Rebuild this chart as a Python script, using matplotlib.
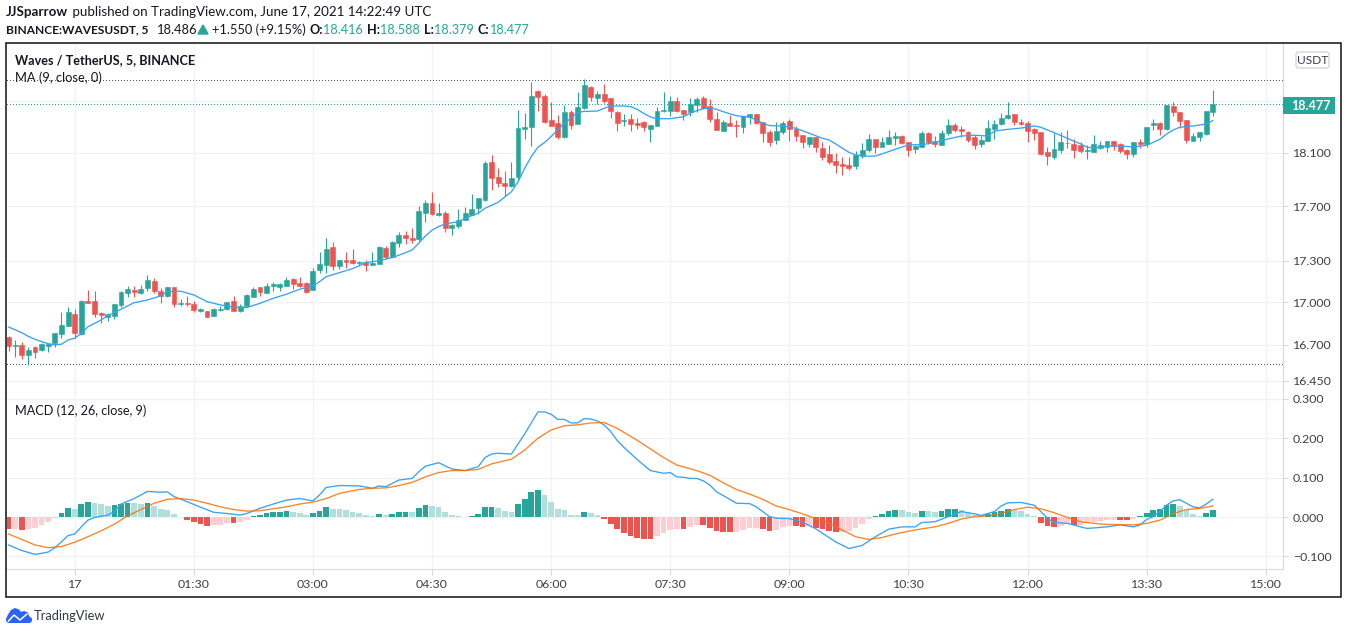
import matplotlib
matplotlib.use("Agg")
import matplotlib.pyplot as plt
from matplotlib.patches import Polygon, Rectangle, FancyBboxPatch
from matplotlib.ticker import FixedLocator, FixedFormatter, NullLocator

W, H = 1348, 634
plt.rcParams["font.family"] = ["Lato", "DejaVu Sans"]

# candles, one value per 5 minute bar
opens = [
    16.756, 16.693, 16.700, 16.630, 16.686, 16.667, 16.693, 16.714, 16.779, 16.835,
    16.919, 16.777, 17.011, 17.011, 16.926, 16.898, 16.906, 16.983, 17.071, 17.088,
    17.071, 17.104, 17.154, 17.083, 17.047, 17.109, 16.992, 16.997, 16.990, 16.940,
    16.940, 16.905, 16.949, 16.954, 17.011, 16.940, 16.976, 17.040, 17.111, 17.068,
    17.118, 17.111, 17.118, 17.169, 17.140, 17.140, 17.090, 17.234, 17.270, 17.401,
    17.263, 17.306, 17.306, 17.286, 17.292, 17.272, 17.277, 17.394, 17.328, 17.430,
    17.488, 17.467, 17.459, 17.650, 17.724, 17.635, 17.650, 17.540, 17.555, 17.599,
    17.635, 17.687, 17.747, 18.032, 17.918, 17.873, 17.851, 17.918, 18.283, 18.298,
    18.577, 18.538, 18.352, 18.329, 18.222, 18.414, 18.321, 18.445, 18.608, 18.522,
    18.554, 18.522, 18.414, 18.347, 18.360, 18.329, 18.337, 18.283, 18.306, 18.421,
    18.421, 18.499, 18.429, 18.414, 18.468, 18.522, 18.460, 18.360, 18.267, 18.329,
    18.314, 18.298, 18.375, 18.398, 18.337, 18.260, 18.199, 18.260, 18.344, 18.283,
    18.237, 18.169, 18.222, 18.138, 18.093, 18.039, 18.017, 18.009, 18.002, 18.077,
    18.123, 18.207, 18.146, 18.169, 18.214, 18.229, 18.184, 18.130, 18.146, 18.252,
    18.191, 18.161, 18.252, 18.314, 18.283, 18.260, 18.222, 18.169, 18.191, 18.283,
    18.321, 18.367, 18.398, 18.337, 18.329, 18.283, 18.260, 18.108, 18.070, 18.123,
    18.179, 18.169, 18.161, 18.118, 18.108, 18.138, 18.146, 18.191, 18.169, 18.123,
    18.093, 18.184, 18.169, 18.314, 18.329, 18.283, 18.460, 18.414, 18.352, 18.191,
    18.222, 18.244, 18.416,
]
highs = [
    16.763, 16.735, 16.721, 16.684, 16.693, 16.716, 16.712, 16.784, 16.933, 16.968,
    16.952, 17.018, 17.090, 17.083, 16.935, 16.924, 16.990, 17.083, 17.118, 17.118,
    17.125, 17.198, 17.173, 17.104, 17.109, 17.109, 17.025, 17.047, 17.011, 16.961,
    16.940, 16.961, 16.976, 17.004, 17.047, 16.990, 17.061, 17.109, 17.111, 17.140,
    17.147, 17.140, 17.183, 17.176, 17.183, 17.147, 17.248, 17.365, 17.467, 17.437,
    17.306, 17.365, 17.386, 17.299, 17.306, 17.365, 17.408, 17.408, 17.445, 17.510,
    17.518, 17.540, 17.702, 17.747, 17.806, 17.724, 17.665, 17.569, 17.680, 17.695,
    17.791, 17.762, 18.039, 18.085, 17.986, 17.963, 18.032, 18.429, 18.406, 18.647,
    18.585, 18.554, 18.492, 18.390, 18.468, 18.429, 18.569, 18.671, 18.616, 18.577,
    18.632, 18.522, 18.421, 18.398, 18.398, 18.367, 18.344, 18.314, 18.452, 18.569,
    18.538, 18.530, 18.429, 18.522, 18.530, 18.538, 18.515, 18.414, 18.352, 18.390,
    18.352, 18.383, 18.398, 18.398, 18.337, 18.275, 18.337, 18.344, 18.360, 18.306,
    18.237, 18.222, 18.222, 18.184, 18.161, 18.100, 18.070, 18.070, 18.115, 18.176,
    18.244, 18.207, 18.222, 18.275, 18.260, 18.237, 18.184, 18.161, 18.267, 18.260,
    18.229, 18.275, 18.360, 18.329, 18.306, 18.267, 18.237, 18.229, 18.352, 18.352,
    18.406, 18.492, 18.398, 18.360, 18.344, 18.290, 18.260, 18.146, 18.252, 18.260,
    18.275, 18.207, 18.184, 18.161, 18.237, 18.191, 18.191, 18.191, 18.176, 18.130,
    18.184, 18.207, 18.298, 18.360, 18.337, 18.468, 18.492, 18.414, 18.352, 18.252,
    18.260, 18.421, 18.588,
]
lows = [
    16.660, 16.618, 16.604, 16.563, 16.611, 16.656, 16.653, 16.688, 16.751, 16.835,
    16.749, 16.770, 16.999, 16.899, 16.857, 16.871, 16.883, 16.971, 17.042, 17.042,
    17.061, 17.085, 17.068, 16.997, 17.042, 16.971, 16.978, 16.978, 16.933, 16.933,
    16.898, 16.905, 16.940, 16.947, 16.940, 16.933, 16.976, 17.040, 17.047, 17.066,
    17.083, 17.083, 17.118, 17.097, 17.113, 17.068, 17.090, 17.214, 17.214, 17.234,
    17.241, 17.248, 17.277, 17.263, 17.227, 17.272, 17.277, 17.313, 17.328, 17.403,
    17.423, 17.430, 17.445, 17.584, 17.635, 17.628, 17.510, 17.488, 17.540, 17.599,
    17.633, 17.643, 17.739, 17.821, 17.843, 17.776, 17.843, 17.896, 18.207, 18.153,
    18.421, 18.329, 18.306, 18.207, 18.214, 18.283, 18.321, 18.437, 18.499, 18.476,
    18.484, 18.367, 18.267, 18.306, 18.267, 18.283, 18.267, 18.184, 18.306, 18.416,
    18.383, 18.414, 18.352, 18.383, 18.414, 18.437, 18.337, 18.275, 18.267, 18.306,
    18.222, 18.252, 18.321, 18.321, 18.184, 18.153, 18.169, 18.244, 18.191, 18.191,
    18.138, 18.146, 18.108, 18.047, 18.017, 17.948, 17.933, 17.971, 17.979, 18.062,
    18.108, 18.100, 18.146, 18.169, 18.161, 18.169, 18.077, 18.100, 18.146, 18.169,
    18.146, 18.161, 18.237, 18.260, 18.222, 18.184, 18.130, 18.146, 18.191, 18.207,
    18.314, 18.360, 18.314, 18.314, 18.184, 18.199, 18.085, 18.009, 18.055, 18.100,
    18.138, 18.062, 18.100, 18.055, 18.108, 18.130, 18.108, 18.123, 18.100, 18.055,
    18.070, 18.138, 18.146, 18.275, 18.237, 18.275, 18.383, 18.290, 18.176, 18.191,
    18.191, 18.237, 18.379,
]
closes = [
    16.693, 16.700, 16.632, 16.665, 16.653, 16.707, 16.705, 16.784, 16.840, 16.933,
    16.786, 17.011, 16.999, 16.921, 16.914, 16.917, 16.990, 17.075, 17.097, 17.078,
    17.097, 17.161, 17.083, 17.049, 17.109, 16.990, 16.997, 16.990, 16.947, 16.952,
    16.898, 16.954, 16.954, 17.004, 16.940, 16.976, 17.054, 17.097, 17.075, 17.118,
    17.133, 17.133, 17.161, 17.133, 17.118, 17.075, 17.227, 17.277, 17.386, 17.263,
    17.306, 17.292, 17.284, 17.292, 17.270, 17.284, 17.401, 17.328, 17.437, 17.488,
    17.467, 17.452, 17.665, 17.724, 17.643, 17.650, 17.540, 17.562, 17.599, 17.650,
    17.680, 17.762, 18.024, 17.911, 17.873, 17.851, 17.911, 18.290, 18.298, 18.538,
    18.530, 18.337, 18.306, 18.222, 18.414, 18.314, 18.452, 18.624, 18.530, 18.554,
    18.499, 18.421, 18.329, 18.352, 18.321, 18.314, 18.298, 18.314, 18.421, 18.429,
    18.499, 18.421, 18.398, 18.476, 18.515, 18.445, 18.360, 18.275, 18.337, 18.306,
    18.309, 18.383, 18.398, 18.329, 18.252, 18.184, 18.267, 18.329, 18.283, 18.229,
    18.184, 18.222, 18.146, 18.070, 18.032, 18.009, 18.002, 17.986, 18.085, 18.123,
    18.207, 18.146, 18.184, 18.222, 18.229, 18.176, 18.123, 18.153, 18.252, 18.184,
    18.169, 18.252, 18.314, 18.275, 18.267, 18.199, 18.161, 18.199, 18.290, 18.321,
    18.367, 18.390, 18.337, 18.321, 18.267, 18.252, 18.093, 18.077, 18.130, 18.184,
    18.174, 18.123, 18.115, 18.123, 18.169, 18.161, 18.191, 18.153, 18.115, 18.093,
    18.184, 18.169, 18.298, 18.329, 18.283, 18.468, 18.414, 18.344, 18.199, 18.229,
    18.260, 18.421, 18.477,
]

# MA (9) read at these bars
ma_bars = [0, 1, 2, 3, 4, 5, 6, 7, 8, 9, 10, 11, 12, 14, 15, 17, 19, 21, 23, 24, 26, 28, 30, 32, 34, 36, 38,
           40, 42, 44, 46, 47, 48, 50, 52, 54, 56, 58, 60, 61, 62, 63, 64, 65, 66, 68, 70, 71, 72, 74, 76, 77,
           78, 79, 80, 81, 82, 83, 84, 85, 86, 87, 89, 90, 91, 93, 94, 95, 96, 97, 98, 100, 102, 103, 104,
           105, 106, 107, 108, 110, 112, 113, 114, 115, 117, 119, 121, 123, 124, 125, 126, 127, 128, 130,
           131, 132, 134, 136, 138, 140, 142, 144, 146, 148, 149, 151, 153, 155, 156, 158, 160, 162, 163,
           164, 166, 168, 170, 172, 174, 175, 176, 177, 179, 181, 182]
ma_vals = [16.826, 16.807, 16.786, 16.760, 16.740, 16.723, 16.709, 16.702, 16.705, 16.735, 16.747, 16.782,
           16.828, 16.876, 16.906, 16.952, 16.999, 17.018, 17.047, 17.078, 17.081, 17.054, 17.006, 16.983,
           16.966, 16.964, 16.994, 17.030, 17.059, 17.095, 17.118, 17.149, 17.185, 17.214, 17.243, 17.286,
           17.301, 17.323, 17.359, 17.379, 17.428, 17.481, 17.523, 17.550, 17.569, 17.587, 17.631, 17.649,
           17.685, 17.730, 17.808, 17.883, 17.984, 18.072, 18.144, 18.179, 18.225, 18.275, 18.327, 18.366,
           18.410, 18.418, 18.421, 18.442, 18.460, 18.460, 18.455, 18.434, 18.403, 18.375, 18.362, 18.362,
           18.377, 18.403, 18.424, 18.439, 18.445, 18.434, 18.416, 18.384, 18.375, 18.352, 18.327, 18.309,
           18.306, 18.288, 18.250, 18.212, 18.199, 18.169, 18.136, 18.105, 18.085, 18.075, 18.077, 18.093,
           18.128, 18.161, 18.163, 18.179, 18.207, 18.229, 18.235, 18.229, 18.267, 18.280, 18.290, 18.306,
           18.296, 18.255, 18.212, 18.169, 18.144, 18.136, 18.153, 18.153, 18.146, 18.158, 18.204, 18.244,
           18.275, 18.296, 18.306, 18.321, 18.347]

# MACD line
macd_bars = [0, 2, 4, 6, 7, 8, 9, 10, 11, 12, 13, 15, 16, 17, 19, 21, 23, 24, 25, 27, 29, 31, 33, 35, 36, 38,
             40, 42, 44, 46, 47, 48, 50, 53, 55, 56, 57, 59, 61, 62, 63, 65, 67, 69, 71, 72, 73, 74, 76, 78,
             80, 81, 82, 83, 84, 85, 86, 87, 88, 89, 90, 91, 92, 93, 95, 97, 99, 100, 101, 102, 103, 104, 105,
             106, 107, 109, 110, 112, 113, 115, 116, 118, 120, 122, 123, 125, 127, 129, 131, 133, 135, 137,
             138, 140, 142, 144, 146, 147, 149, 150, 151, 153, 155, 156, 157, 158, 160, 162, 163, 166, 168,
             170, 171, 172, 173, 174, 175, 176, 177, 178, 179, 180, 181, 182]
macd_vals = [-0.071, -0.085, -0.095, -0.089, -0.078, -0.063, -0.047, -0.043, -0.025, -0.008, -0.001, 0.005,
             0.014, 0.033, 0.047, 0.065, 0.063, 0.064, 0.052, 0.039, 0.025, 0.012, 0.009, 0.005, 0.009, 0.022,
             0.033, 0.043, 0.047, 0.041, 0.056, 0.075, 0.080, 0.079, 0.073, 0.079, 0.077, 0.094, 0.098, 0.115,
             0.129, 0.138, 0.122, 0.118, 0.128, 0.151, 0.160, 0.162, 0.160, 0.211, 0.267, 0.267, 0.261, 0.248,
             0.248, 0.239, 0.239, 0.250, 0.249, 0.244, 0.234, 0.217, 0.194, 0.177, 0.146, 0.118, 0.111, 0.113,
             0.102, 0.101, 0.098, 0.098, 0.092, 0.081, 0.064, 0.045, 0.035, 0.034, 0.026, 0.001, -0.003, -0.004,
             -0.013, -0.030, -0.041, -0.063, -0.080, -0.072, -0.050, -0.031, -0.025, -0.025, -0.014, -0.012,
             0.001, 0.014, 0.008, 0.004, 0.014, 0.028, 0.036, 0.037, 0.030, 0.014, -0.003, -0.014, -0.016,
             -0.025, -0.029, -0.025, -0.020, -0.025, -0.020, -0.006, 0.001, 0.014, 0.030, 0.041, 0.044, 0.035,
             0.026, 0.023, 0.033, 0.045]

# signal line
signal_bars = [0, 2, 4, 6, 8, 10, 12, 14, 16, 18, 20, 22, 24, 26, 28, 30, 32, 34, 36, 38, 40, 42, 44, 46, 48,
               50, 53, 55, 57, 59, 61, 63, 65, 67, 69, 71, 73, 76, 78, 80, 82, 84, 86, 88, 90, 92, 93, 95, 97,
               99, 101, 104, 106, 108, 110, 112, 114, 116, 118, 120, 122, 124, 126, 128, 130, 132, 134, 136,
               138, 140, 142, 144, 146, 148, 150, 152, 154, 156, 158, 160, 162, 164, 166, 168, 170, 172, 174,
               176, 178, 180, 182]
signal_vals = [-0.043, -0.057, -0.071, -0.078, -0.075, -0.064, -0.050, -0.035, -0.018, 0.003, 0.019, 0.035,
               0.045, 0.047, 0.043, 0.035, 0.026, 0.019, 0.015, 0.016, 0.021, 0.026, 0.033, 0.038, 0.047, 0.060,
               0.070, 0.073, 0.074, 0.080, 0.088, 0.102, 0.113, 0.118, 0.118, 0.121, 0.135, 0.147, 0.170, 0.200,
               0.221, 0.232, 0.234, 0.239, 0.240, 0.225, 0.215, 0.195, 0.173, 0.151, 0.132, 0.118, 0.106, 0.087,
               0.070, 0.058, 0.045, 0.028, 0.019, 0.008, -0.004, -0.016, -0.033, -0.050, -0.057, -0.052, -0.043,
               -0.036, -0.030, -0.025, -0.016, -0.005, 0.001, 0.003, 0.009, 0.019, 0.025, 0.021, 0.011, -0.001,
               -0.012, -0.016, -0.019, -0.019, -0.020, -0.016, -0.008, 0.009, 0.019, 0.022, 0.028]

# histogram, one value per bar
hist = [
    -0.031, -0.030, -0.033, -0.030, -0.028, -0.020, -0.013, -0.003, 0.010, 0.023,
    0.020, 0.033, 0.038, 0.036, 0.033, 0.028, 0.030, 0.034, 0.036, 0.035,
    0.033, 0.036, 0.028, 0.020, 0.018, 0.008, 0.001, -0.008, -0.013, -0.018,
    -0.023, -0.020, -0.0195, -0.015, -0.016, -0.013, -0.008, 0.003, 0.005, 0.010,
    0.013, 0.0135, 0.015, 0.013, 0.010, 0.005, 0.010, 0.015, 0.025, 0.020,
    0.0195, 0.018, 0.013, 0.010, 0.005, 0.003, 0.008, 0.005, 0.008, 0.0125,
    0.013, 0.0125, 0.023, 0.030, 0.028, 0.025, 0.013, 0.005, 0.003, 0.001,
    0.003, 0.008, 0.025, 0.0255, 0.023, 0.015, 0.013, 0.033, 0.046, 0.063,
    0.069, 0.056, 0.038, 0.020, 0.018, 0.005, 0.0045, 0.013, 0.010, 0.005,
    -0.005, -0.018, -0.030, -0.041, -0.048, -0.053, -0.056, -0.0565, -0.048, -0.041,
    -0.033, -0.030, -0.0305, -0.025, -0.020, -0.021, -0.028, -0.036, -0.038, -0.0385,
    -0.038, -0.033, -0.028, -0.0275, -0.030, -0.036, -0.033, -0.025, -0.023, -0.0235,
    -0.025, -0.023, -0.027, -0.030, -0.036, -0.038, -0.0375, -0.035, -0.027, -0.0165,
    -0.004, 0.003, 0.008, 0.015, 0.018, 0.0175, 0.013, 0.010, 0.015, 0.0145,
    0.013, 0.015, 0.020, 0.0205, 0.018, 0.010, 0.005, 0.0045, 0.008, 0.013,
    0.015, 0.020, 0.018, 0.015, 0.008, 0.003, -0.014, -0.023, -0.025, -0.023,
    -0.018, -0.020, -0.0195, -0.015, -0.012, -0.010, -0.0075, -0.007, -0.0075, -0.008,
    -0.005, 0.002, 0.010, 0.018, 0.020, 0.030, 0.033, 0.028, 0.018, 0.008,
    0.003, 0.010, 0.018,
]

time_ticks = [10, 28, 46, 64, 82, 100, 118, 136, 154, 172, 190]
time_labels = ["17", "01:30", "03:00", "04:30", "06:00", "07:30", "09:00", "10:30", "12:00", "13:30", "15:00"]
price_ticks = [16.45, 16.7, 17.0, 17.3, 17.7, 18.1, 18.5]
price_labels = ["16.450", "16.700", "17.000", "17.300", "17.700", "18.100", ""]
macd_ticks = [-0.1, 0.0, 0.1, 0.2, 0.3]
macd_labels = ["\u22120.100", "0.000", "0.100", "0.200", "0.300"]
session_high = 18.663
session_low = 16.567
last_price = 18.477

UP = "#26a69a"
DOWN = "#ef5350"
UP_PALE = "#b2dfdb"
DOWN_PALE = "#ffcdd2"
BLUE = "#38a2f6"
GRID = "#f0f3f5"
AXIS = "#d9dadd"
TEXT = "#131722"
LABEL = "#3c3f47"


def pane(y0, y1):
    return fig.add_axes([7 / W, 1 - y1 / H, (1283 - 7) / W, (y1 - y0) / H])


fig = plt.figure(figsize=(W / 100, H / 100), dpi=100)
ax = pane(43, 393)
ax2 = pane(393, 569)

bars = list(range(len(closes)))
colors = [UP if c >= o else DOWN for o, c in zip(opens, closes)]

ax.set_yscale("log")
ax.vlines(bars, lows, highs, colors=colors, lw=0.8, zorder=3)
ax.bar(bars, [abs(c - o) for o, c in zip(opens, closes)], bottom=[min(o, c) for o, c in zip(opens, closes)],
       width=0.74, color=colors, edgecolor=colors, lw=0.4, zorder=4)
ax.plot(ma_bars, ma_vals, color=BLUE, lw=0.95, zorder=5)
ax.axhline(session_high, color="#55585f", lw=0.72, ls=(0, (1, 2.2)), antialiased=False, zorder=2)
ax.axhline(session_low, color="#55585f", lw=0.72, ls=(0, (1, 2.2)), antialiased=False, zorder=2)
ax.axhline(last_price, color=UP, lw=0.72, ls=(0, (1, 2.2)), antialiased=False, zorder=6)
ax.set_ylim(16.367, 18.954)
ax.yaxis.set_major_locator(FixedLocator(price_ticks))
ax.yaxis.set_major_formatter(FixedFormatter(price_labels))
ax.yaxis.set_minor_locator(NullLocator())

hist_colors = []
for i, v in enumerate(hist):
    rising = hist[i - 1] < v if i else False
    if v >= 0:
        hist_colors.append(UP if rising else UP_PALE)
    else:
        hist_colors.append(DOWN_PALE if rising else DOWN)
ax2.bar(bars, hist, width=0.86, color=hist_colors, zorder=3)
ax2.plot(macd_bars, macd_vals, color=BLUE, lw=0.95, zorder=4)
ax2.plot(signal_bars, signal_vals, color="#ff6d00", lw=0.95, alpha=0.85, zorder=5)
ax2.set_ylim(-0.132, 0.315)
ax2.set_yticks(macd_ticks)
ax2.set_yticklabels(macd_labels)

for a in (ax, ax2):
    a.set_xlim(-0.23, 192.6)
    a.set_xticks(time_ticks)
    a.yaxis.tick_right()
    a.grid(True, color=GRID, lw=1.0, zorder=0)
    a.set_axisbelow(True)
    a.tick_params(axis="y", length=3.6, width=0.8, color=AXIS, labelcolor=LABEL, labelsize=8.9, pad=3.4)
    for s in ("top", "left"):
        a.spines[s].set_visible(False)
    a.spines["right"].set_color(AXIS)
    a.spines["bottom"].set_color(AXIS)

ax.tick_params(axis="x", length=0, labelbottom=False)
ax2.set_xticklabels(time_labels)
ax2.tick_params(axis="x", length=4, width=0.8, color=AXIS, labelcolor=LABEL, labelsize=8.9, pad=3)

# overlay in pixel coordinates for the page furniture
top = fig.add_axes([0, 0, 1, 1], zorder=20)
top.set_xlim(0, W)
top.set_ylim(H, 0)
top.axis("off")
top.patch.set_alpha(0)
top.add_patch(Rectangle((6, 43), 1335, 554, fill=False, ec="#101010", lw=1.1))

renderer = fig.canvas.get_renderer()


def run(x, y, parts, size):
    # text pieces one after the other on a line
    for s, color, weight in parts:
        t = top.text(x, y, s, color=color, fontweight=weight, fontsize=size, va="center", ha="left")
        x = t.get_window_extent(renderer).x1 + 0.5
    return x


run(6, 12, [("JJSparrow", TEXT, "bold"), (" published on TradingView.com, June 17, 2021 14:22:49 UTC", TEXT, "normal")], 9.65)
run(6, 29.5, [("BINANCE:WAVESUSDT, 5", TEXT, "bold")], 8.6)
run(157, 29.5, [("18.486", TEXT, "normal")], 9.3)
top.add_patch(Polygon([[198, 34], [208, 34], [203, 25]], color=UP))
run(212, 29.5, [("+1.550 (+9.15%)", TEXT, "normal")], 9.3)
run(309, 29.5, [("O:", TEXT, "bold"), ("18.416 ", UP, "normal"),
                ("H:", TEXT, "bold"), ("18.588 ", UP, "normal"), ("L:", TEXT, "bold"), ("18.379 ", UP, "normal"),
                ("C:", TEXT, "bold"), ("18.477", UP, "normal")], 9.05)

top.text(15, 60.5, "Waves / TetherUS, 5, BINANCE", color=TEXT, fontsize=9.1, fontweight="bold", va="center")
top.text(15, 77.5, "MA (9, close, 0)", color=TEXT, fontsize=9.25, va="center")
top.text(15, 410.5, "MACD (12, 26, close, 9)", color=TEXT, fontsize=9.05, va="center")

# last price tag and currency button
top.add_patch(Rectangle((1283, 97), 52, 17, color=UP, lw=0))
top.text(1311, 105.5, "18.477", color="white", fontsize=9, fontweight="bold", ha="center", va="center")
top.add_patch(FancyBboxPatch((1296, 52), 33, 16, boxstyle="round,pad=0,rounding_size=2.5", fc="white", ec="#c9cbd0", lw=0.8))
top.text(1312.5, 60.5, "USDT", color=LABEL, fontsize=8.6, ha="center", va="center")

# TradingView mark
cloud = [[6, 619], [8, 614.5], [11, 610], [15, 608], [19, 609.5], [21, 612], [24, 611], [28, 612.5], [29, 616],
         [32, 618.5], [32, 621], [30, 623], [8, 623], [6, 621]]
top.add_patch(Polygon(cloud, closed=True, color="#2962ff", lw=0))
top.plot([8.5, 14, 20, 27], [621, 615, 620, 614], color="white", lw=1.1)
top.text(34, 616, "TradingView", color="#333640", fontsize=9.3, va="center")

fig.savefig("out.png", dpi=100)
